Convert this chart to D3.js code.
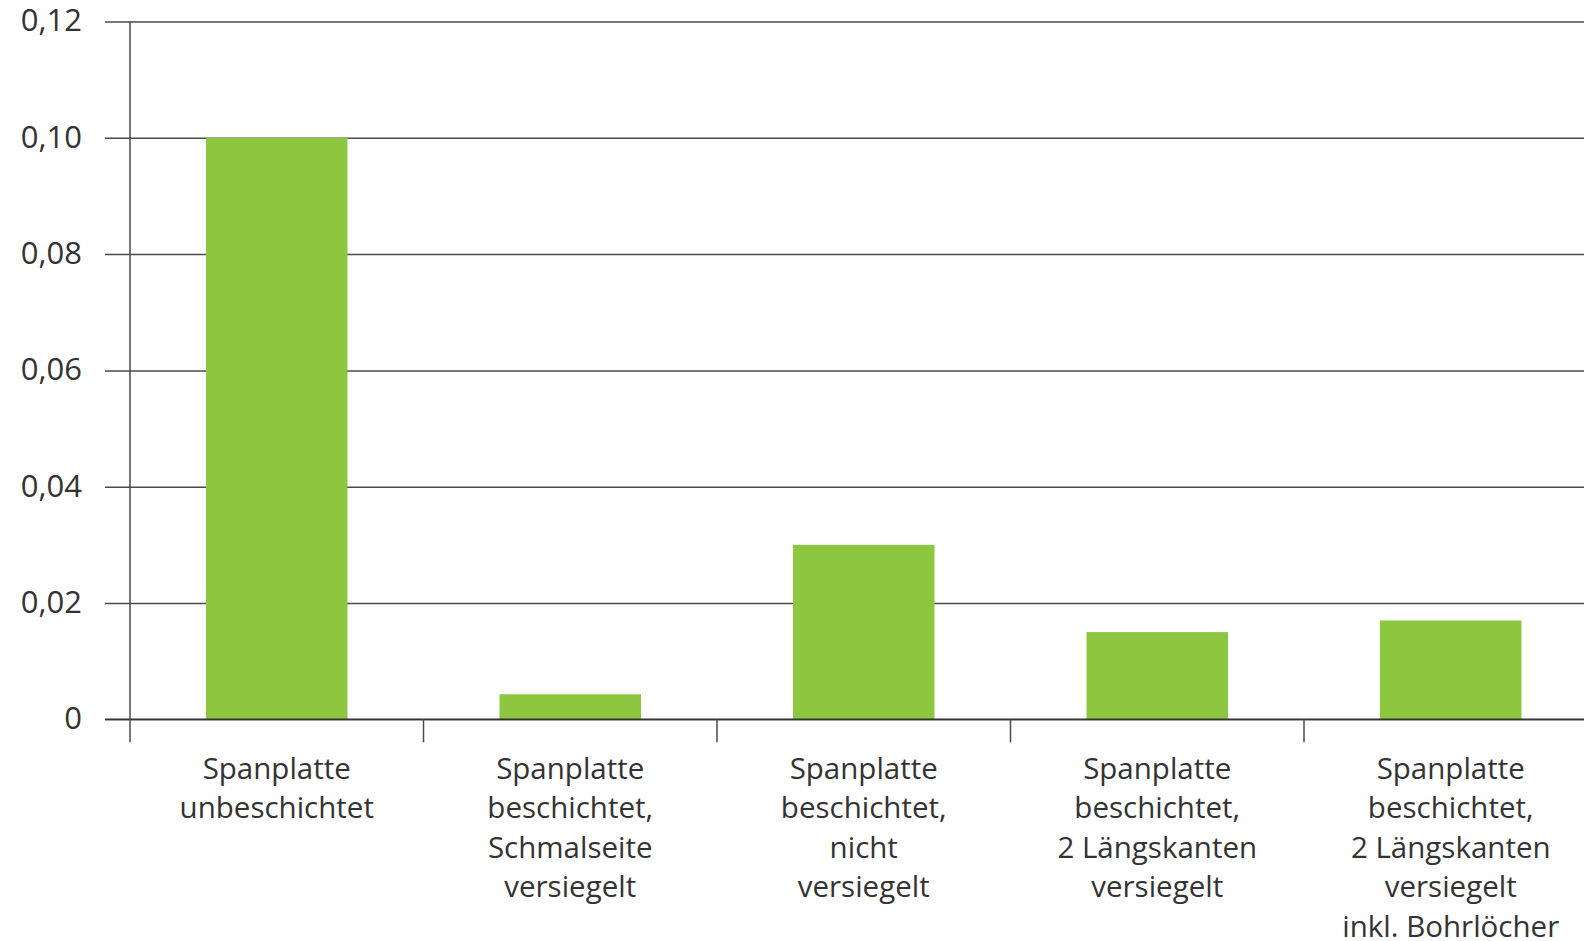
<!DOCTYPE html>
<html>
<head>
<meta charset="utf-8">
<script src="https://cdnjs.cloudflare.com/ajax/libs/d3/7.8.5/d3.min.js"></script>
<style>
  body { margin: 0; background: #fff; }
  svg { display: block; }
</style>
</head>
<body>
<svg id="chart" width="1584" height="941"></svg>
<script>
// data
var categories = [
  "Spanplatte\nunbeschichtet",
  "Spanplatte\nbeschichtet,\nSchmalseite\nversiegelt",
  "Spanplatte\nbeschichtet,\nnicht\nversiegelt",
  "Spanplatte\nbeschichtet,\n2 Längskanten\nversiegelt",
  "Spanplatte\nbeschichtet,\n2 Längskanten\nversiegelt\ninkl. Bohrlöcher"
];
var values = [0.100, 0.0043, 0.030, 0.015, 0.017];
var yTicks = [0, 0.02, 0.04, 0.06, 0.08, 0.10, 0.12];

var svg = d3.select("#chart");
var mLeft = 130, mTop = 21.5, mBottom = 719.3, step = 293.5;

var x = d3.scaleBand()
    .domain(d3.range(categories.length))
    .range([mLeft, mLeft + step * categories.length])
    .paddingInner(0.518)
    .paddingOuter(0.259);

var y = d3.scaleLinear()
    .domain([0, 0.12])
    .range([mBottom, mTop]);

var fmt = function(d) { return d === 0 ? "0" : d3.format(".2f")(d).replace(".", ","); };

// grid lines + y labels
var yAxis = svg.append("g")
    .attr("transform", "translate(" + mLeft + ",0)")
    .call(d3.axisLeft(y).tickValues(yTicks).tickSize(-1600).tickPadding(48).tickFormat(fmt));
yAxis.select(".domain").remove();
yAxis.selectAll(".tick line")
    .attr("x1", -25)
    .attr("stroke", "#4a4a4a")
    .attr("stroke-width", 1.5);
yAxis.selectAll(".tick text")
    .attr("fill", "#333")
    .style("font-family", "'Open Sans', sans-serif")
    .style("font-size", "31px")
    .attr("dy", "0.3em");

// bars
svg.append("g").selectAll("rect")
    .data(values)
  .enter().append("rect")
    .attr("x", function(d, i) { return x(i); })
    .attr("y", function(d) { return y(d); })
    .attr("width", x.bandwidth())
    .attr("height", function(d) { return y(0) - y(d); })
    .attr("fill", "#8dc63f");

// baseline over bars
svg.append("line")
    .attr("x1", mLeft - 25).attr("x2", 1584)
    .attr("y1", y(0)).attr("y2", y(0))
    .attr("stroke", "#333").attr("stroke-width", 1.5);

// vertical axis
svg.append("line")
    .attr("x1", mLeft).attr("x2", mLeft)
    .attr("y1", mTop).attr("y2", mBottom + 23)
    .attr("stroke", "#4a4a4a").attr("stroke-width", 1.5);

// category separators
var off = x.step() * x.paddingInner() / 2;
svg.append("g").selectAll("line")
    .data(d3.range(1, categories.length))
  .enter().append("line")
    .attr("x1", function(i) { return x(i) - off; })
    .attr("x2", function(i) { return x(i) - off; })
    .attr("y1", mBottom).attr("y2", mBottom + 23)
    .attr("stroke", "#4a4a4a").attr("stroke-width", 1.5);

// category labels
var labels = svg.append("g").selectAll("text")
    .data(categories)
  .enter().append("text")
    .attr("text-anchor", "middle")
    .attr("fill", "#333")
    .style("font-family", "'Open Sans', sans-serif")
    .style("font-size", "29.5px");

labels.each(function(d, i) {
  var t = d3.select(this);
  d.split("\n").forEach(function(line, k) {
    t.append("tspan")
      .attr("x", x(i) + x.bandwidth() / 2)
      .attr("y", 779 + k * 39.4)
      .text(line);
  });
});
</script>
</body>
</html>
